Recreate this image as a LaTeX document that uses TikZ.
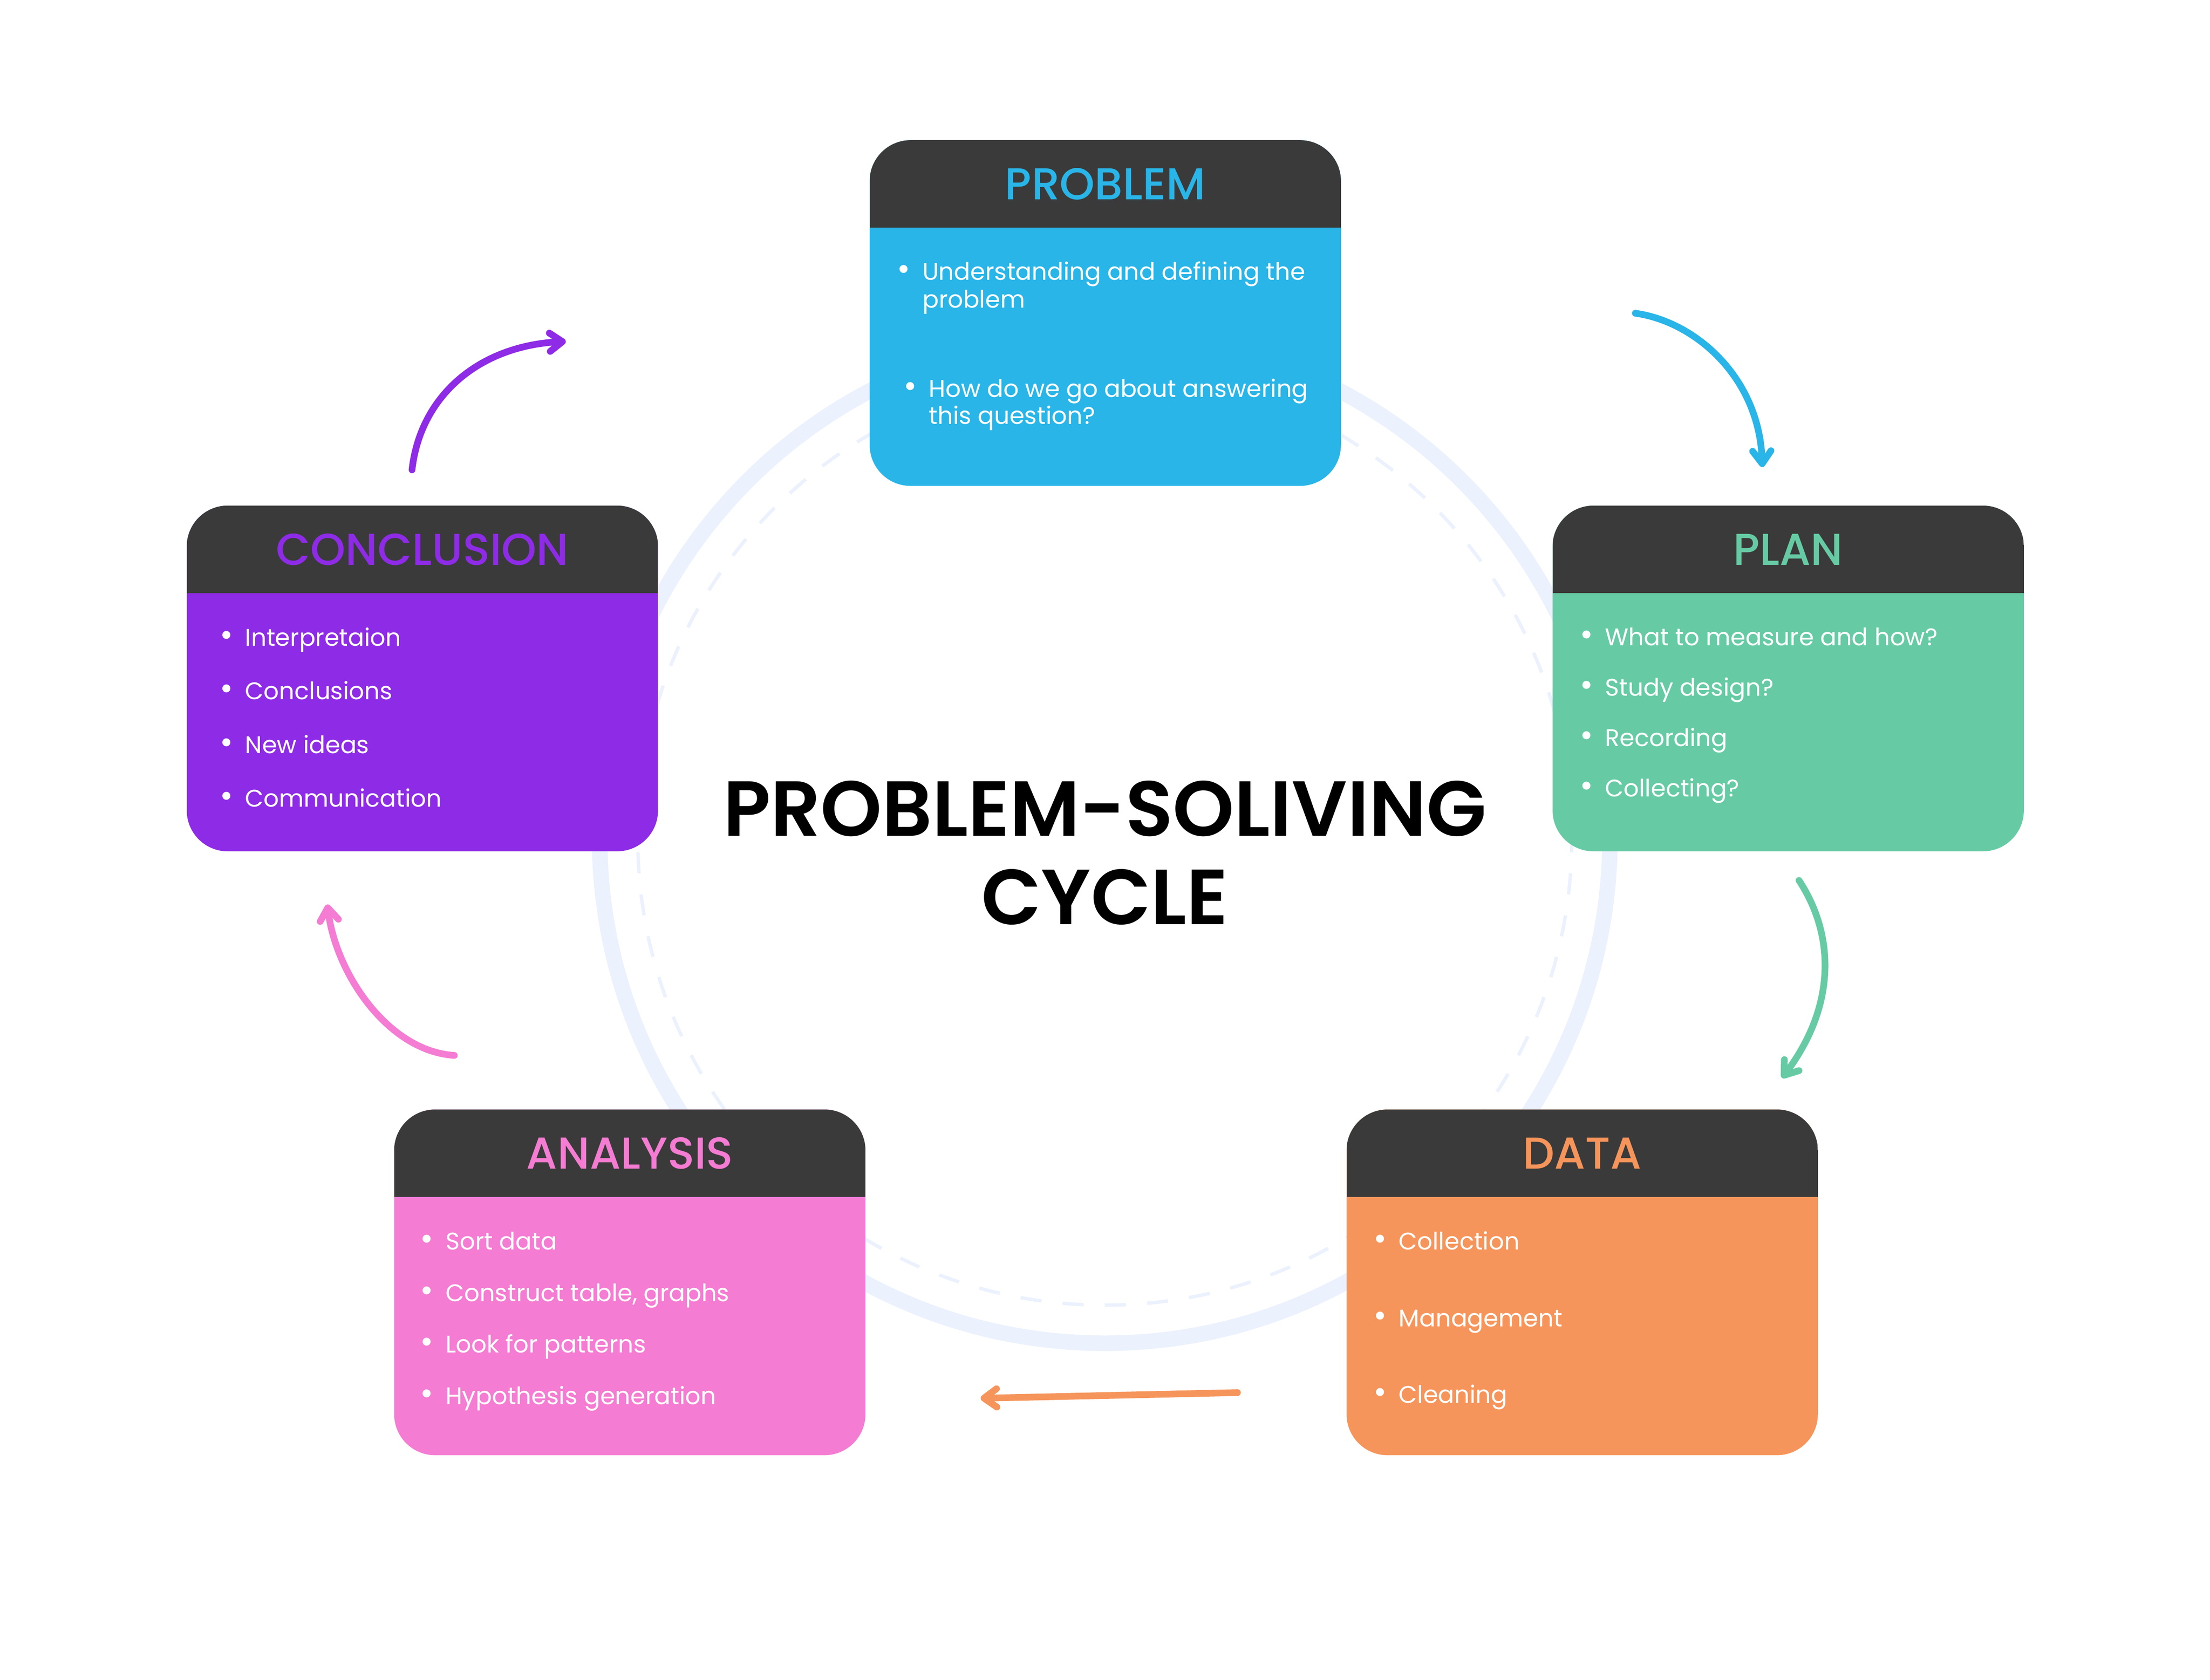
\documentclass[tikz,border=0pt]{standalone}
\usepackage{fontspec}
\setmainfont{Poppins}
\newfontfamily\headfont{Poppins Medium}
\newfontfamily\titlefont{Poppins SemiBold}
\usetikzlibrary{arrows.meta}
\definecolor{ProblemBlue}{HTML}{29B5E8}
\definecolor{PlanGreen}{HTML}{66CBA5}
\definecolor{ConclusionPurple}{HTML}{8E2BE6}
\definecolor{DataOrange}{HTML}{F6955B}
\definecolor{AnalysisPink}{HTML}{F47CD2}
\definecolor{HeaderGray}{HTML}{3A3A3A}
\definecolor{RingBlue}{HTML}{EBF1FD}
\newcommand{\itembullet}{\llap{\makebox[5.3mm]{\scalebox{1.35}{\textbullet}}}}
\tikzstyle{StageNode}=[rectangle, rounded corners=5.8mm, minimum width=66.8mm, minimum height=49mm, inner sep=0pt, path picture={\fill[HeaderGray, sharp corners] (path picture bounding box.north west) rectangle ([yshift=-12.4mm]path picture bounding box.north east);}]
\tikzstyle{StageTitle}=[font=\headfont\fontsize{18}{20}\selectfont, inner sep=0pt]
\tikzstyle{ItemText}=[font=\fontsize{9.7}{11}\selectfont, text=white, inner sep=0pt, anchor=base west]
\tikzstyle{MainTitle}=[font=\titlefont\fontsize{31.5}{35.6}\selectfont, align=center, inner sep=0pt]
\tikzstyle{RingLine}=[draw=RingBlue, line width=2.2mm]
\tikzstyle{RingDash}=[draw=RingBlue, line width=0.48mm, dash pattern=on 3mm off 3mm]
\tikzstyle{CycleArrow}=[line width=0.95mm, line cap=round, -{Straight Barb[length=1.8mm, width=2.6mm, round]}]

\begin{document}
\begin{tikzpicture}[x=0.2mm, y=-0.2mm]
    \fill[white] (0,0) rectangle (1566.3,1190.6);
    \useasboundingbox (0,0) rectangle (1566.3,1190.6);

    \draw [RingLine] (783,594) circle [radius=71.6mm];
    \draw [RingDash] (783,594) circle [radius=66.2mm];

    \node (problem) [StageNode, fill=ProblemBlue, anchor=north west] at (616,99) {};
    \node (plan) [StageNode, fill=PlanGreen, anchor=north west] at (1100,358) {};
    \node (conclusion) [StageNode, fill=ConclusionPurple, anchor=north west] at (132,358) {};
    \node (data) [StageNode, fill=DataOrange, anchor=north west] at (954,786) {};
    \node (analysis) [StageNode, fill=AnalysisPink, anchor=north west] at (279,786) {};

    \node (problemTitle) [StageTitle, text=ProblemBlue] at ([yshift=-6.28mm]problem.north) {PROBLEM};
    \node (planTitle) [StageTitle, text=PlanGreen] at ([yshift=-6.28mm]plan.north) {PLAN};
    \node (conclusionTitle) [StageTitle, text=ConclusionPurple] at ([yshift=-6.28mm]conclusion.north) {CONCLUSION};
    \node (dataTitle) [StageTitle, text=DataOrange] at ([yshift=-6.28mm]data.north) {DATA};
    \node (analysisTitle) [StageTitle, text=AnalysisPink] at ([yshift=-6.28mm]analysis.north) {ANALYSIS};

    \node (problemA) [ItemText] at (653.5,198.4) {\itembullet Understanding and defining the};
    \node (problemA2) [ItemText] at (653.5,218.1) {problem};
    \node (problemB) [ItemText] at (658,281.3) {\itembullet How do we go about answering};
    \node (problemB2) [ItemText] at (658,300.6) {this question?};

    \node (planA) [ItemText] at (1137.3,457.6) {\itembullet What to measure and how?};
    \node (planB) [ItemText] at (1137.3,493.3) {\itembullet Study design?};
    \node (planC) [ItemText] at (1137.3,529) {\itembullet Recording};
    \node (planD) [ItemText] at (1137.3,564.7) {\itembullet Collecting?};

    \node (conclusionA) [ItemText] at (173.5,457.8) {\itembullet Interpretaion};
    \node (conclusionB) [ItemText] at (173.5,495.8) {\itembullet Conclusions};
    \node (conclusionC) [ItemText] at (173.5,533.8) {\itembullet New ideas};
    \node (conclusionD) [ItemText] at (173.5,571.8) {\itembullet Communication};

    \node (dataA) [ItemText] at (991,885.7) {\itembullet Collection};
    \node (dataB) [ItemText] at (991,940.1) {\itembullet Management};
    \node (dataC) [ItemText] at (991,994.3) {\itembullet Cleaning};

    \node (analysisA) [ItemText] at (315.5,885.8) {\itembullet Sort data};
    \node (analysisB) [ItemText] at (315.5,922.5) {\itembullet Construct table, graphs};
    \node (analysisC) [ItemText] at (315.5,958.8) {\itembullet Look for patterns};
    \node (analysisD) [ItemText] at (315.5,995.5) {\itembullet Hypothesis generation};

    \node (cycleTitle) [MainTitle] at (783,604.4) {PROBLEM-SOLIVING\\CYCLE};

    \coordinate (problemExit) at (1159,222);
    \coordinate (planEntry) at (1249,331);
    \coordinate (planExit) at (1275,624);
    \coordinate (dataEntry) at (1263,764);
    \coordinate (dataExit) at (877,987);
    \coordinate (analysisEntry) at (695,991);
    \coordinate (analysisExit) at (322,748);
    \coordinate (conclusionEntry) at (232,641);
    \coordinate (conclusionExit) at (292,333);
    \coordinate (problemEntry) at (401,242);

    \draw [CycleArrow, ProblemBlue] (problemExit) .. controls (1202,228) and (1247,268) .. (planEntry);
    \draw [CycleArrow, PlanGreen] (planExit) .. controls (1300,662) and (1302,712) .. (dataEntry);
    \draw [CycleArrow, DataOrange] (dataExit) -- (analysisEntry);
    \draw [CycleArrow, AnalysisPink] (analysisExit) .. controls (275,745) and (238,690) .. (conclusionEntry);
    \draw [CycleArrow, ConclusionPurple] (conclusionExit) .. controls (298,280) and (340,245) .. (problemEntry);
\end{tikzpicture}
\end{document}
